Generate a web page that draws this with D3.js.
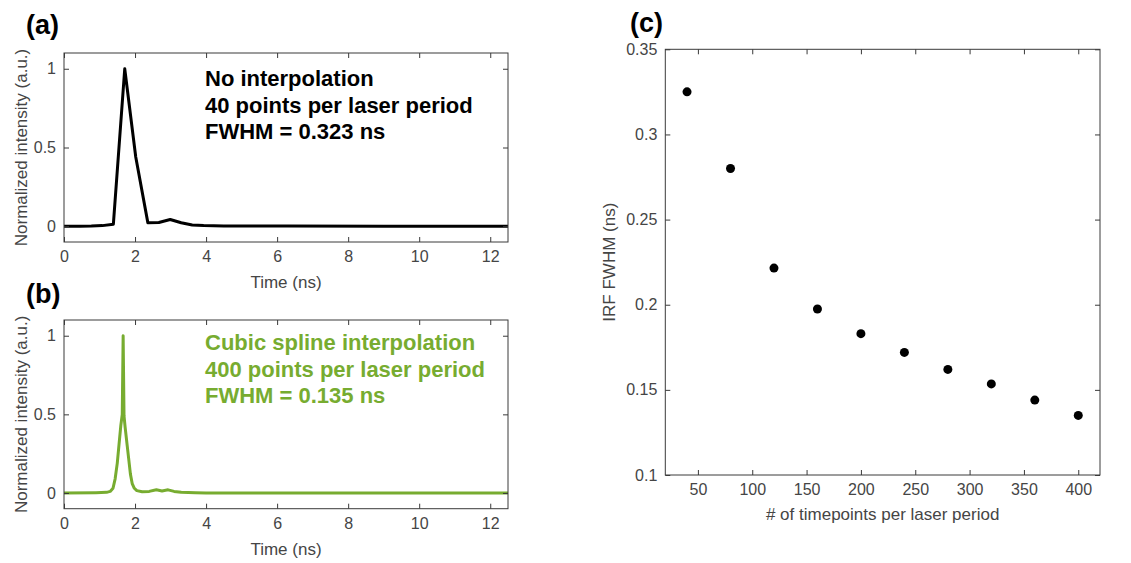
<!DOCTYPE html>
<html>
<head>
<meta charset="utf-8">
<script src="https://cdn.jsdelivr.net/npm/d3@7/dist/d3.min.js"></script>
<style>
  html, body { margin: 0; padding: 0; background: #fff; }
  svg { display: block; }
  text { font-family: "Liberation Sans", Arial, Helvetica, sans-serif; }
</style>
</head>
<body>
<svg id="fig" width="1131" height="563"></svg>
<script>
// ---------- data ----------
// Panel (a): no interpolation, 40 points per laser period
const timeA = [0, 0.45, 0.77, 1.08, 1.39, 1.71, 2.02, 2.36, 2.67, 2.99, 3.30, 3.61, 3.93, 4.5, 6.0, 6.3, 9.0, 12.5];
const intensityA = [0, 0, 0.001, 0.004, 0.013, 1.0, 0.44, 0.023, 0.024, 0.043, 0.022, 0.008, 0.004, 0.001, 0.002, 0.001, 0, 0];

// Panel (b): cubic spline interpolation, 400 points per laser period
const timeB = [0, 0.9, 1.2, 1.30, 1.38, 1.44, 1.50, 1.55, 1.60, 1.64, 1.665, 1.69, 1.72, 1.78, 1.82, 1.87, 1.92, 1.98, 2.05, 2.2, 2.4, 2.6, 2.76, 2.93, 3.1, 3.3, 3.7, 4.0, 12.5];
const intensityB = [0, 0.002, 0.004, 0.01, 0.03, 0.09, 0.19, 0.31, 0.43, 0.50, 1.0, 0.49, 0.42, 0.30, 0.22, 0.12, 0.06, 0.03, 0.015, 0.008, 0.01, 0.02, 0.013, 0.02, 0.01, 0.004, 0.002, 0, 0];

// Panel (c): IRF FWHM vs number of timepoints
const timepoints = [40, 80, 120, 160, 200, 240, 280, 320, 360, 400];
const fwhm = [0.325, 0.280, 0.2215, 0.1975, 0.183, 0.172, 0.162, 0.1535, 0.144, 0.135];

// tick labels
const timeTicks = [0, 2, 4, 6, 8, 10, 12];
const intensityTicks = [0, 0.5, 1];
const timepointTicks = [50, 100, 150, 200, 250, 300, 350, 400];
const fwhmTicks = [0.1, 0.15, 0.2, 0.25, 0.3, 0.35];

const annotA = ["No interpolation", "40 points per laser period", "FWHM = 0.323 ns"];
const annotB = ["Cubic spline interpolation", "400 points per laser period", "FWHM = 0.135 ns"];

// ---------- style ----------
const axisColor = "#3a3a3a";
const tickTextColor = "#454545";
const green = "#77ac30";
const tickFont = 16;
const labelFont = 17;
const tickLen = 5;

const svg = d3.select("#fig");

function frame(g, x, y, xTicks, yTicks, xFmt, yFmt) {
  const [x0, x1] = x.range();
  const [y0, y1] = y.range(); // y0 bottom, y1 top
  const bottom = d3.axisBottom(x).tickValues(xTicks).tickFormat(xFmt).tickSizeInner(-tickLen).tickSizeOuter(0).tickPadding(9);
  const top = d3.axisTop(x).tickValues(xTicks).tickFormat("").tickSizeInner(-tickLen).tickSizeOuter(0);
  const left = d3.axisLeft(y).tickValues(yTicks).tickFormat(yFmt).tickSizeInner(-tickLen).tickSizeOuter(0).tickPadding(8);
  const right = d3.axisRight(y).tickValues(yTicks).tickFormat("").tickSizeInner(-tickLen).tickSizeOuter(0);
  const style = sel => {
    sel.select(".domain").remove();
    sel.selectAll(".tick line").attr("stroke", axisColor).attr("stroke-width", 1);
    sel.selectAll(".tick text").attr("fill", tickTextColor).attr("font-size", tickFont)
      .attr("font-family", '"Liberation Sans", Arial, sans-serif');
  };
  g.append("g").attr("transform", `translate(0,${y0})`).call(bottom).call(style);
  g.append("g").attr("transform", `translate(0,${y1})`).call(top).call(style);
  g.append("g").attr("transform", `translate(${x0},0)`).call(left).call(style);
  g.append("g").attr("transform", `translate(${x1},0)`).call(right).call(style);
  g.append("rect").attr("x", x0).attr("y", y1).attr("width", x1 - x0).attr("height", y0 - y1)
    .attr("fill", "none").attr("stroke", axisColor).attr("stroke-width", 1);
}

function trace(cfg) {
  const g = svg.append("g");
  const x = d3.scaleLinear().domain([0, 12.5]).range([cfg.left, cfg.right]);
  const y = d3.scaleLinear().domain([-0.1, 1.1]).range([cfg.bottom, cfg.top]);
  const fmt = d => d3.format("~g")(d);
  const clipId = "clip-" + cfg.id;
  svg.append("clipPath").attr("id", clipId).append("rect")
    .attr("x", cfg.left).attr("y", cfg.top).attr("width", cfg.right - cfg.left).attr("height", cfg.bottom - cfg.top);
  const pts = cfg.t.map((t, i) => [t, cfg.v[i]]);
  g.append("path").datum(pts)
    .attr("clip-path", `url(#${clipId})`)
    .attr("fill", "none").attr("stroke", cfg.color).attr("stroke-width", 3)
    .attr("stroke-linejoin", "round")
    .attr("d", d3.line().x(d => x(d[0])).y(d => y(d[1])));
  frame(g, x, y, timeTicks, intensityTicks, fmt, fmt);
  g.append("text").attr("x", (cfg.left + cfg.right) / 2).attr("y", cfg.bottom + 46)
    .attr("text-anchor", "middle").attr("font-size", labelFont).attr("fill", tickTextColor).text("Time (ns)");
  g.append("text").attr("transform", `translate(27,${(cfg.top + cfg.bottom) / 2}) rotate(-90)`)
    .attr("text-anchor", "middle").attr("font-size", labelFont).attr("fill", tickTextColor)
    .text("Normalized intensity (a.u.)");
  cfg.annot.forEach((s, i) => {
    g.append("text").attr("x", 205).attr("y", cfg.annotY + i * 26.5)
      .attr("font-size", 22).attr("font-weight", "bold").attr("fill", cfg.textColor).text(s);
  });
  g.append("text").attr("x", 26).attr("y", cfg.labelY).attr("font-size", 27)
    .attr("font-weight", "bold").attr("fill", "#000").text(cfg.label);
}

trace({ id: "a", t: timeA, v: intensityA, color: "#000", textColor: "#000",
  left: 64, right: 508, top: 53, bottom: 242, annot: annotA, annotY: 86, label: "(a)", labelY: 34 });
trace({ id: "b", t: timeB, v: intensityB, color: green, textColor: green,
  left: 64, right: 508, top: 320, bottom: 508.7, annot: annotB, annotY: 350, label: "(b)", labelY: 303 });

// ---------- panel (c) ----------
{
  const g = svg.append("g");
  const L = 665.3, R = 1100, T = 49.3, B = 475;
  const x = d3.scaleLinear().domain([20, 420]).range([L, R]);
  const y = d3.scaleLinear().domain([0.1, 0.35]).range([B, T]);
  frame(g, x, y, timepointTicks, fwhmTicks, d3.format("d"), d => d3.format("~g")(d));
  g.selectAll("circle.pt").data(timepoints).join("circle").attr("class", "pt")
    .attr("cx", d => x(d)).attr("cy", (d, i) => y(fwhm[i])).attr("r", 4.5).attr("fill", "#000");
  g.append("text").attr("x", (L + R) / 2).attr("y", 520)
    .attr("text-anchor", "middle").attr("font-size", labelFont).attr("fill", tickTextColor)
    .text("# of timepoints per laser period");
  g.append("text").attr("transform", `translate(615,${(T + B) / 2}) rotate(-90)`)
    .attr("text-anchor", "middle").attr("font-size", labelFont).attr("fill", tickTextColor)
    .text("IRF FWHM (ns)");
  g.append("text").attr("x", 630).attr("y", 32).attr("font-size", 27)
    .attr("font-weight", "bold").attr("fill", "#000").text("(c)");
}
</script>
</body>
</html>
